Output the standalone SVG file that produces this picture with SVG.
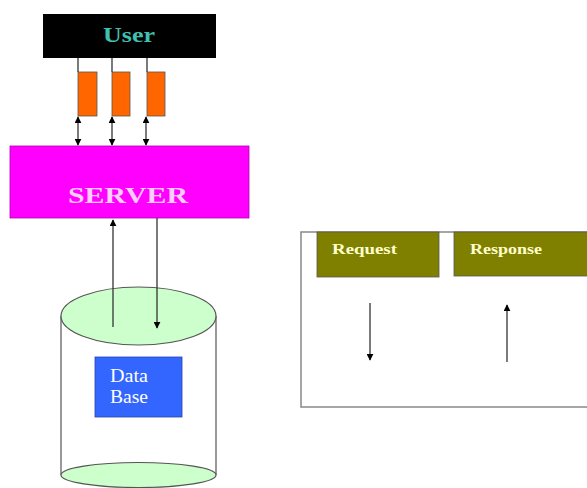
<svg xmlns="http://www.w3.org/2000/svg" width="587" height="488" viewBox="0 0 587 488">
  <defs>
    <marker id="head" viewBox="0 0 10 10" refX="9" refY="5" markerWidth="7" markerHeight="7" orient="auto-start-reverse" markerUnits="userSpaceOnUse">
      <path d="M0,0 L10,5 L0,10 z" fill="#000"/>
    </marker>
    <style>
      .serif { font-family: "Liberation Serif", "Times New Roman", serif; font-weight: bold; }
      .plain { font-family: "Liberation Serif", "Times New Roman", serif; font-weight: normal; }
      .link { stroke: #333; stroke-width: 1.3; fill: none; }
      .arrow { stroke: #333; stroke-width: 1.3; fill: none; marker-end: url(#head); }
      .both { stroke: #333; stroke-width: 1.3; fill: none; marker-start: url(#head); marker-end: url(#head); }
      .port { fill: #FF6600; stroke: #555; stroke-width: 0.8; }
      .tab { fill: #808000; stroke: #555; stroke-width: 0.8; }
      .tabtext { fill: #FFFFCC; font-size: 15px; }
    </style>
  </defs>
  <rect width="587" height="488" fill="#fff"/>

  <g id="user">
    <rect x="43" y="14" width="173" height="44" fill="#000"/>
    <text x="103" y="42" class="serif" font-size="21" fill="#40C0B0" textLength="52" lengthAdjust="spacingAndGlyphs">User</text>
  </g>

  <g id="ports">
    <rect class="port" x="78" y="72" width="19" height="44"/>
    <rect class="port" x="112" y="72" width="18" height="44"/>
    <rect class="port" x="147" y="72" width="18" height="44"/>
  </g>

  <g id="server">
    <rect x="10" y="146" width="239" height="72" fill="#FF00FF" stroke="#B000B0" stroke-width="0.8"/>
    <text x="68" y="203" class="serif" font-size="24" fill="#FFCCFF" textLength="120" lengthAdjust="spacingAndGlyphs">SERVER</text>
  </g>

  <g id="database">
    <rect x="61" y="316" width="155" height="159" fill="#fff"/>
    <path d="M61,316 L61,475 M216,316 L216,475" stroke="#555" stroke-width="1.2"/>
    <ellipse cx="138.5" cy="475" rx="77.5" ry="12.5" fill="#CCFFCC" stroke="#555" stroke-width="1.2"/>
    <ellipse cx="138.5" cy="316" rx="77.5" ry="29" fill="#CCFFCC" stroke="#555" stroke-width="1.2"/>
    <rect x="95" y="357" width="87" height="60" fill="#3366FF" stroke="#2244AA" stroke-width="0.8"/>
    <text class="plain" font-size="19" fill="#fff">
      <tspan x="110" y="382" textLength="38" lengthAdjust="spacingAndGlyphs">Data</tspan>
      <tspan x="110" y="403" textLength="38" lengthAdjust="spacingAndGlyphs">Base</tspan>
    </text>
  </g>

  <g id="legend">
    <rect x="301" y="232" width="300" height="175" fill="#fff" stroke="#888" stroke-width="1.5"/>
    <rect class="tab" x="317" y="232" width="122" height="45"/>
    <text x="332" y="254" class="serif tabtext" textLength="65" lengthAdjust="spacingAndGlyphs">Request</text>
    <rect class="tab" x="454" y="232" width="150" height="44"/>
    <text x="470" y="254" class="serif tabtext" textLength="72" lengthAdjust="spacingAndGlyphs">Response</text>
  </g>

  <g id="connectors">
    <line class="link" x1="78" y1="58" x2="78" y2="72"/>
    <line class="link" x1="112" y1="58" x2="112" y2="72"/>
    <line class="link" x1="147" y1="58" x2="147" y2="72"/>
    <line class="both" x1="78" y1="117" x2="78" y2="145"/>
    <line class="both" x1="112" y1="117" x2="112" y2="145"/>
    <line class="both" x1="146" y1="117" x2="146" y2="145"/>
    <line class="arrow" x1="113" y1="327" x2="113" y2="220"/>
    <line class="arrow" x1="157" y1="218" x2="157" y2="328"/>
    <line class="arrow" x1="370" y1="303" x2="370" y2="360"/>
    <line class="arrow" x1="507" y1="362" x2="507" y2="305"/>
  </g>
</svg>
